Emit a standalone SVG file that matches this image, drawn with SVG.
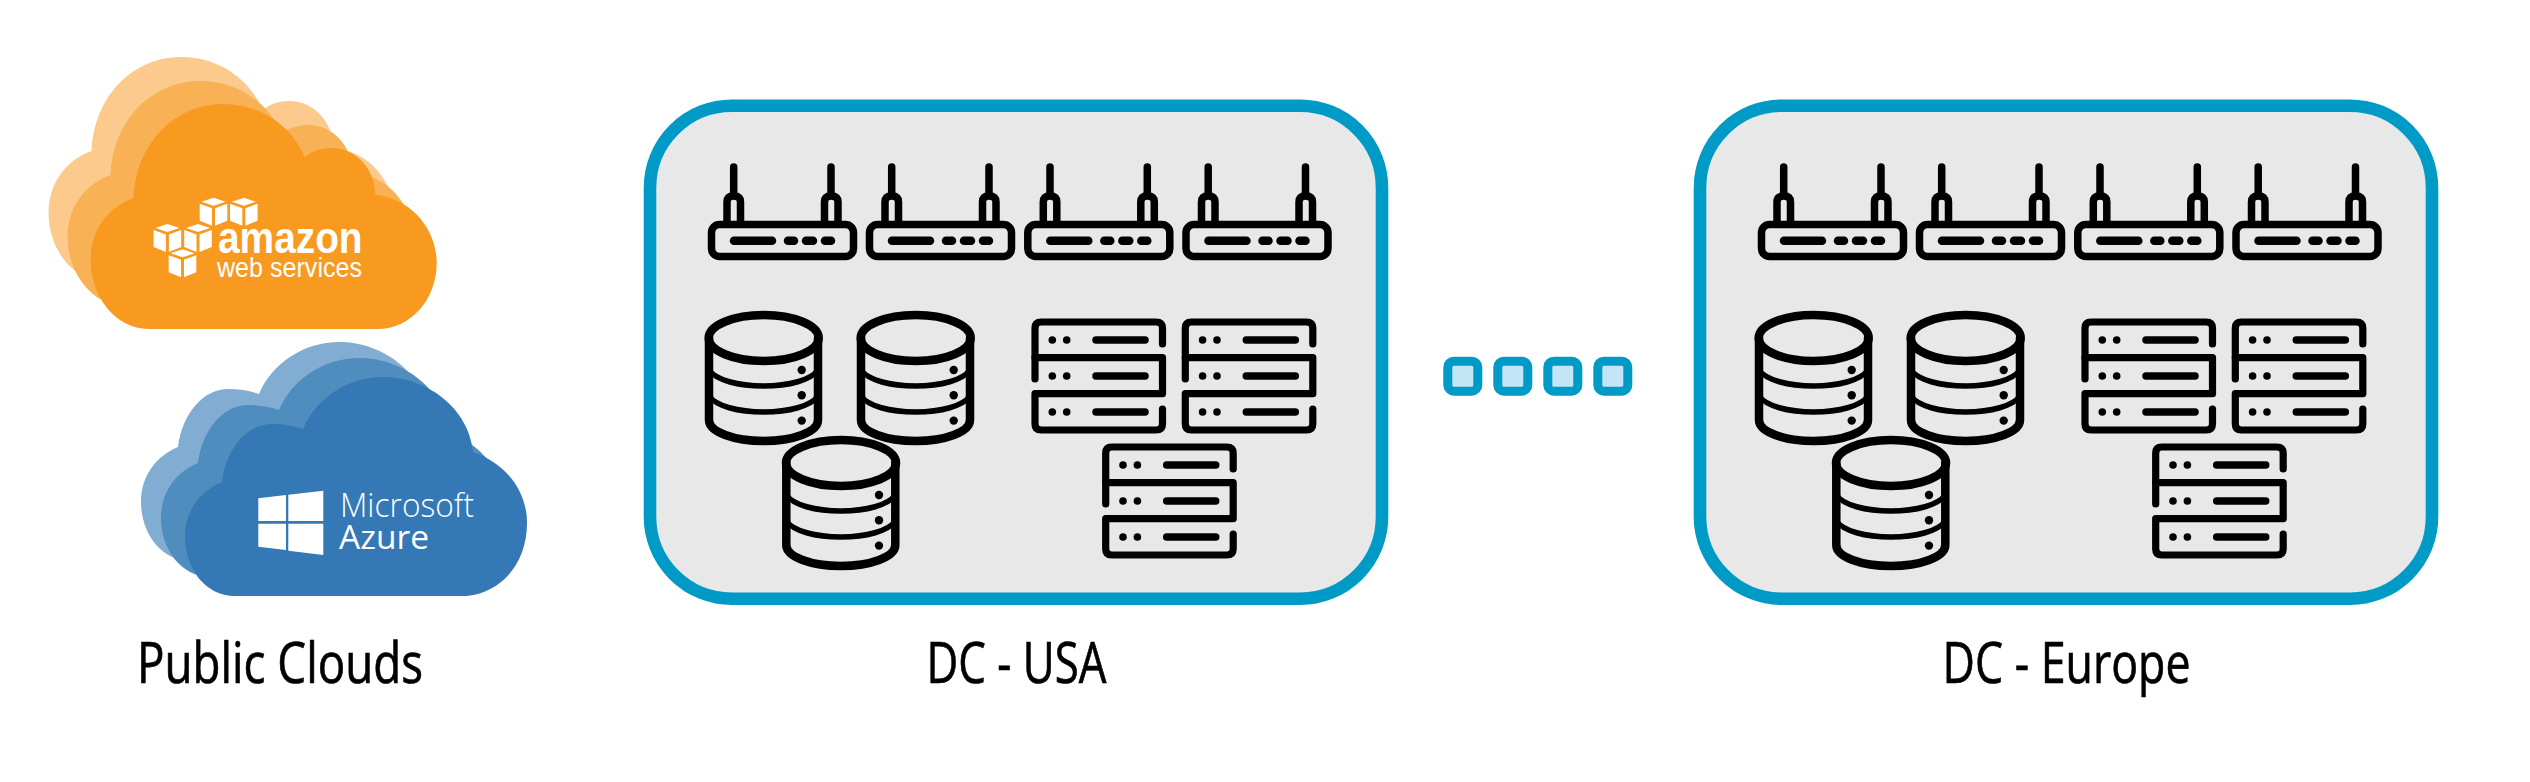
<svg xmlns="http://www.w3.org/2000/svg" width="2530" height="782" viewBox="0 0 2530 782">
<style>
.panel{fill:#e8e8e8;stroke:#009ac6;stroke-width:12.6}
.ln{fill:none;stroke:#000;stroke-linecap:round;stroke-linejoin:round}
.r{stroke-width:7.500}
.slot{stroke-width:8.500}
.thin{stroke-width:5.500}
.thick{stroke-width:8.500}
.sv{stroke-width:7.200}
.dot{fill:#000}
.lbl{font-family:"Open Sans","Liberation Sans",sans-serif;font-size:57px;fill:#000;stroke:#000;stroke-width:.7}
.w{fill:#fff}
.sq{fill:#c2e6f5;stroke:#009ac6;stroke-width:9}
</style>
<defs>
<path id="aws" d="M149 329C115 329 90.600 296 90.600 260C90.600 230 108 207 133.600 198C136 143 175 104 223 104C260 104 291 125 304.800 157C312 151 321 148 331.600 148C355 148 375 168 375.400 195C410 198 436.700 228 436.700 263C436.700 300 410 329 378 329Z"/>
<path id="az" d="M235 596C205 596 185 568 185 537C185 511 200 491 222 482C226 449 247 424 272 424C284 424 294 426 303 429C316 398 348 377 383 377C428 377 469 409 473 452C505 463 527 490 527 523C527 562 503 592 467 596Z"/>
<g id="cube" class="w"><polygon points="-12,4 0,0 12,4 0,8"/><polygon points="-13.800,6 -1.500,10.500 -1.500,28 -13.800,23"/><polygon points="1.500,10.500 13.800,6 13.800,23 1.500,28"/></g>
<g id="router">
<rect class="ln r" x="711.500" y="224.500" width="142" height="32" rx="8"/>
<path class="ln r" d="M733.700 167V195M831 167V195"/>
<path class="ln r" d="M727 222V202Q727 196 733.700 196Q740.500 196 740.500 202V222M824.500 222V202Q824.500 196 831 196Q838 196 838 202V222"/>
<path class="ln slot" d="M734 240.700H772M788 240.700H794M806 240.700H813M825 240.700H831"/>
</g>
<g id="db">
<ellipse class="ln thick" cx="763.700" cy="338" rx="55" ry="23"/>
<path class="ln thick" d="M709 338V420C709 432 734 441 763.700 441C793 441 818 432 818 420V338"/>
<path class="ln thin" d="M709 370C716 380 738 386 763.700 386C789 386 811 380 818 370M709 396C716 406 738 412 763.700 412C789 412 811 406 818 396"/>
<circle class="dot" cx="801.700" cy="370" r="4.200"/><circle class="dot" cx="801.700" cy="395.300" r="4.200"/><circle class="dot" cx="801.700" cy="420.600" r="4.200"/>
</g>
<g id="server">
<path class="ln sv" d="M1162.500 344V328Q1162.500 322 1156 322H1041Q1035 322 1035 328V379"/>
<path class="ln sv" d="M1035 357.700H1162.500V393.700H1035V424Q1035 430 1041 430H1156Q1162.500 430 1162.500 424V409"/>
<path class="ln" stroke-width="7.500" d="M1096 340H1145M1096 376H1145M1096 412H1145"/>
<g class="dot"><circle cx="1052.300" cy="340" r="3.800"/><circle cx="1066.700" cy="340" r="3.800"/><circle cx="1052.300" cy="376" r="3.800"/><circle cx="1066.700" cy="376" r="3.800"/><circle cx="1052.300" cy="412" r="3.800"/><circle cx="1066.700" cy="412" r="3.800"/></g>
</g>
</defs>
<g id="connectors"/>
<g id="cloud-aws">
<use href="#aws" x="-42" y="-47" fill="#fbca8c"/>
<use href="#aws" x="-23" y="-23" fill="#f9b155"/>
<use href="#aws" fill="#f89a20"/>
<use href="#cube" x="213.500" y="197.700"/><use href="#cube" x="243.800" y="197.700"/><use href="#cube" x="167.400" y="224"/><use href="#cube" x="198" y="224"/><use href="#cube" x="182.500" y="249.300"/>
<text class="w" x="218" y="253.300" font-family="'Liberation Sans',sans-serif" font-weight="700" font-size="44" textLength="144.600" lengthAdjust="spacingAndGlyphs">amazon</text>
<text class="w" x="217" y="277.300" font-family="'Liberation Sans',sans-serif" font-size="27" textLength="145" lengthAdjust="spacingAndGlyphs">web services</text>
</g>
<g id="cloud-azure">
<use href="#az" x="-44" y="-35" fill="#82add3"/>
<use href="#az" x="-24" y="-19" fill="#4f8dbf"/>
<use href="#az" fill="#3478b5"/>
<g class="w"><polygon points="258.300,498.300 286,495 286,521 258.300,521"/><polygon points="288.300,494.700 323.300,490.700 323.300,521 288.300,521"/><polygon points="258.300,523.700 286,523.700 286,550 258.300,546.700"/><polygon points="288.300,523.700 323.300,523.700 323.300,555 288.300,550.700"/></g>
<text class="w" x="340" y="517.300" font-family="'Open Sans',sans-serif" font-weight="300" font-size="33" textLength="134" lengthAdjust="spacingAndGlyphs">Microsoft</text>
<text class="w" x="339" y="549" font-family="'Open Sans',sans-serif" font-weight="500" font-size="32" textLength="90" lengthAdjust="spacingAndGlyphs">Azure</text>
</g>
<text id="label-clouds" class="lbl" x="137" y="682.700" textLength="286" lengthAdjust="spacingAndGlyphs">Public Clouds</text>
<g id="dc-usa">
<rect class="panel" x="650" y="105.700" width="732" height="493" rx="82"/>
<g id="usa-routers"><use href="#router"/><use href="#router" x="158"/><use href="#router" x="316.300"/><use href="#router" x="474.500"/></g>
<g id="usa-dbs"><use href="#db"/><use href="#db" x="152"/><use href="#db" x="77.300" y="125"/></g>
<g id="usa-servers"><use href="#server"/><use href="#server" x="150.300"/><use href="#server" x="70.700" y="125"/></g>
</g>
<text id="label-usa" class="lbl" x="926.500" y="682.700" textLength="180" lengthAdjust="spacingAndGlyphs">DC - USA</text>
<g id="dots"><rect class="sq" x="1447.800" y="361.200" width="30" height="30" rx="6"/><rect class="sq" x="1497.800" y="361.200" width="30" height="30" rx="6"/><rect class="sq" x="1547.800" y="361.200" width="30" height="30" rx="6"/><rect class="sq" x="1597.800" y="361.200" width="30" height="30" rx="6"/></g>
<g id="dc-europe" transform="translate(1050 0)">
<rect class="panel" x="650" y="105.700" width="732" height="493" rx="82"/>
<g id="eu-routers"><use href="#router"/><use href="#router" x="158"/><use href="#router" x="316.300"/><use href="#router" x="474.500"/></g>
<g id="eu-dbs"><use href="#db"/><use href="#db" x="152"/><use href="#db" x="77.300" y="125"/></g>
<g id="eu-servers"><use href="#server"/><use href="#server" x="150.300"/><use href="#server" x="70.700" y="125"/></g>
</g>
<text id="label-europe" class="lbl" x="1942.500" y="682.700" textLength="248" lengthAdjust="spacingAndGlyphs">DC - Europe</text>
</svg>
